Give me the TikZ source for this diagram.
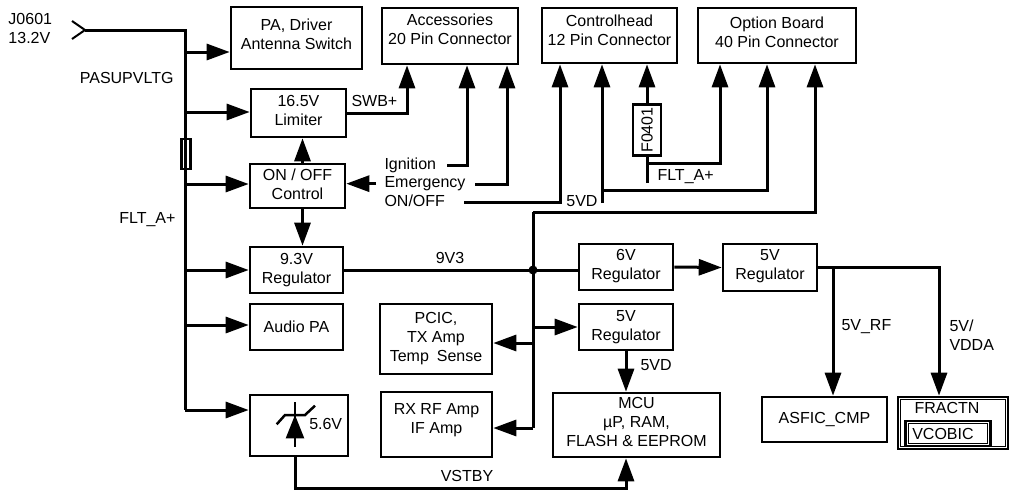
\documentclass[tikz,border=0pt]{standalone}
\usepackage{fontspec}
\setmainfont{Liberation Sans}
\usetikzlibrary{arrows.meta}
% lowers the last text line's floor, so the text sits higher in its box
\newcommand{\dstrut}[1]{\rule[-#1pt]{0pt}{0pt}}

\begin{document}
\begin{tikzpicture}[x=1pt, y=-1pt, >={Triangle[length=23pt, width=16pt]}, line width=3pt,
    font=\fontsize{16}{19}\selectfont,
    block/.style={draw, line width=2.6pt, align=center, inner sep=2pt},
    lbl/.style={inner sep=0pt}]
    \useasboundingbox (0,0) rectangle (1016,499);

    % Nodes {supply chain blocks}
    \node [block, minimum width=131pt, minimum height=62pt] (pa)    at (296.5,38)  {PA, Driver\\Antenna Switch\dstrut{8}};
    \node [block, minimum width=136pt, minimum height=56pt] (acc)   at (450,36)    {Accessories\\20 Pin Connector\dstrut{13}};
    \node [block, minimum width=135pt, minimum height=55pt] (ctl)   at (609.5,35.5) {Controlhead\\12 Pin Connector\dstrut{11}};
    \node [block, minimum width=158pt, minimum height=55pt] (opt)   at (777,35.5)  {Option Board\\40 Pin Connector\dstrut{7}};
    \node [block, minimum width=95pt,  minimum height=48pt] (lim)   at (298.5,113) {16.5V\\Limiter\dstrut{6}};
    \node [block, minimum width=95pt,  minimum height=44pt] (onoff) at (297.5,186) {ON / OFF\\Control\dstrut{4}};
    \node [block, minimum width=93pt,  minimum height=46pt] (reg93) at (296.5,270) {9.3V\\Regulator};
    \node [block, minimum width=93pt,  minimum height=46pt] (apa)   at (296.5,327) {Audio PA};
    \node [block, minimum width=98pt,  minimum height=61pt] (zen)   at (299,425.5) {};
    \node [block, minimum width=112pt, minimum height=70pt] (pcic)  at (436,339)   {PCIC,\\TX Amp\\Temp\enspace Sense};
    \node [block, minimum width=111pt, minimum height=65pt] (rx)    at (436.5,424.5) {RX RF Amp\\IF Amp\dstrut{12}};
    \node [block, minimum width=94pt,  minimum height=46pt] (reg6)  at (626,267)   {6V\\Regulator\dstrut{6}};
    \node [block, minimum width=94pt,  minimum height=47pt] (reg5a) at (770,267.5) {5V\\Regulator\dstrut{6}};
    \node [block, minimum width=94pt,  minimum height=46pt] (reg5b) at (626,327)   {5V\\Regulator};
    \node [block, minimum width=167pt, minimum height=64pt] (mcu)   at (636.5,425) {MCU\\µP, RAM,\\FLASH \& EEPROM\dstrut{7}};
    \node [block, minimum width=125pt, minimum height=45pt] (asfic) at (824.5,419.5) {ASFIC\_CMP};
    \node [block, minimum width=110pt, minimum height=52pt] (frac)  at (953,423)   {};
    \node [block, anchor=west, align=left, text width=71pt, inner xsep=7pt, minimum height=25pt] (vco) at (904,433.5) {VCOBIC};
    \node [block, rotate=90, minimum width=51pt, minimum height=28pt, inner sep=1pt] (f0401) at (647,130) {F0401};
    \node [draw, fill=white, line width=2.5pt, minimum width=9pt, minimum height=30pt, inner sep=0pt] (fbus) at (186,154) {};
    \foreach \n in {frac,vco}
        \draw [line width=1pt] ([shift={(4pt,-4pt)}]\n.north west) rectangle ([shift={(-4pt,4pt)}]\n.south east);

    % Labels
    \node [lbl, anchor=north west, align=left] (jin lbl) at (7,12) {J0601\\13.2V};
    \node [lbl, anchor=base east]  (pasup) at (175,83)  {PASUPVLTG};
    \node [lbl, anchor=base east]  (flt1)  at (177,223) {FLT\_A+};
    \node [lbl, anchor=base west]  (swb)   at (350,106) {SWB+};
    \node [lbl, anchor=base west]  (ign)   at (383,169) {Ignition};
    \node [lbl, anchor=base west]  (emg)   at (383,187.5) {Emergency};
    \node [lbl, anchor=base west]  (onf)   at (383,206) {ON/OFF};
    \node [lbl, anchor=base east]  (vd1)   at (599,206) {5VD};
    \node [lbl, anchor=base west]  (flt2)  at (656,180) {FLT\_A+};
    \node [lbl, anchor=base]       (v93)   at (450,263.5) {9V3};
    \node [lbl, anchor=base west]  (vd2)   at (639,370) {5VD};
    \node [lbl, anchor=base]       (vstby) at (467,481) {VSTBY};
    \node [lbl, anchor=base west]  (vrf)   at (840,330) {5V\_RF};
    \node [lbl, anchor=north west, align=left] (vdda) at (948,318) {5V/\\VDDA};
    \node [lbl, anchor=base west]  (fracl) at (913,413) {FRACTN};

    % Zener inside the 5.6V block
    \begin{scope}[shift={(zen.center)}, line width=2.5pt]
        \draw (-4,-23.5) -- (-4,21.5);
        \fill (-4,-10.5) -- (-13.3,12.8) -- (5.3,12.8) -- cycle;
        \draw (-22.3,-1.2) -- (-14,-10.5) -- (6,-10.5) -- (16,-19.8);
        \node [lbl, anchor=base west] (zv) at (9,3.5) {5.6V};
    \end{scope}

    % Coordinates {taps and bends}
    \coordinate (jin)  at (85,30);
    \coordinate (tpa)  at (185,52);
    \coordinate (tlim) at (185,112);
    \coordinate (toff) at (185,184);
    \coordinate (treg) at (185,270);
    \coordinate (tapa) at (185,325);
    \coordinate (tzen) at (185,410);
    \coordinate (wig)  at (447,165);
    \coordinate (wem)  at (475,184);
    \coordinate (won)  at (464,202);
    \coordinate (w5vd) at (602,203);
    \coordinate (j5vd) at (602,190);
    \coordinate (wfl)  at (647,183);
    \coordinate (jfl)  at (647,163);
    \coordinate (vtop) at (533,212);
    \coordinate (t5v)  at (533,327);
    \coordinate (tpc)  at (533,343);
    \coordinate (trx)  at (533,428);
    \coordinate (x5rf) at (833,0);
    \coordinate (rail) at (0,488);

    % Paths
    \draw [line width=2pt] ([shift={(-13pt,9pt)}]jin) -- (jin) -- ([shift={(-13pt,-9pt)}]jin);
    \draw (jin) -| (tzen);
    \foreach \t/\n in {tpa/pa, tlim/lim, toff/onoff, treg/reg93, tapa/apa, tzen/zen}
        \draw [->] (\t) -- (\t -| \n.west);
    \draw [->] ([xshift=5pt]onoff.north) -- ([xshift=4pt]lim.south);
    \draw [->] ([xshift=5pt]onoff.south) -- ([xshift=6pt]reg93.north);
    \draw [->] ([xshift=-7pt]emg.west) -- (onoff.east |- emg.west);
    \draw [->] (lim.east) -| ([xshift=-43pt]acc.south);
    \draw [->] (wig) -| ([xshift=17pt]acc.south);
    \draw [->] (wem) -| ([xshift=57pt]acc.south);
    \draw [->] (won) -| ([xshift=-49.5pt]ctl.south);
    \draw [->] (w5vd) -- (w5vd |- ctl.south);
    \draw [->] (j5vd) -| ([xshift=-10pt]opt.south);
    \draw (wfl) -- (f0401.west);
    \draw [->] (f0401.east) -- (f0401.east |- ctl.south);
    \draw [->] (jfl) -| ([xshift=-57pt]opt.south);
    \draw [->] (vtop) -| ([xshift=38pt]opt.south);
    \draw (vtop) -- (trx);
    \draw [->] (trx) -- (trx -| rx.east);
    \draw [->] (tpc) -- (tpc -| pcic.east);
    \draw [->] (t5v) -- (t5v -| reg5b.west);
    \draw (reg93.east) -- (reg93.east -| reg6.west);
    \fill (vtop |- reg93.east) circle (4.5pt);
    \draw [->] (reg6.east) -- (reg5a.west);
    \draw [->] (reg5a.east) -| ([xshift=-14pt]frac.north);
    \draw [->] (x5rf |- reg5a.east) -- (x5rf |- asfic.north);
    \draw [->] (reg5b.south) -- (reg5b.south |- mcu.north);
    \draw [->] ([xshift=-4pt]zen.south) |- (rail -| reg5b.south) -- (reg5b.south |- mcu.south);
\end{tikzpicture}
\end{document}
